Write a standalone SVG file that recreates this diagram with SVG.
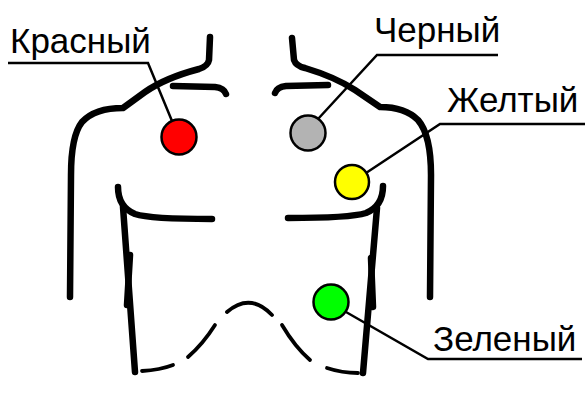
<svg xmlns="http://www.w3.org/2000/svg" width="585" height="408" viewBox="0 0 585 408">
<style>
.body{fill:none;stroke:#000;stroke-width:6.5;stroke-linecap:round;stroke-linejoin:round}
.dash{fill:none;stroke:#000;stroke-width:3.8;stroke-linecap:round}
.lead{fill:none;stroke:#000;stroke-width:2.5;stroke-linejoin:miter}
.el{stroke:#000;stroke-width:2.5}
.lbl{font-family:"Liberation Sans",Arial,sans-serif;font-size:35px;fill:#000}
</style>
<rect width="585" height="408" fill="#fff"/>
<g id="body">
<path class="body" d="M210,37 L209,60 Q208,66 199,69 Q165,78 145,92 L123,108 Q95,108 82,122 Q71,136 71,175 L70,297"/>
<path class="body" d="M292,38 L294,60 Q296,66 305,68 Q335,77 355,90 L380,107 Q405,107 418,120 Q431,135 431,175 L430,297"/>
<path class="body" d="M173,86 L215,87 Q224,88 226,94"/>
<path class="body" d="M328,85 L286,86 Q277,87 275,93"/>
<path class="body" d="M118,187 Q118,207 135,214 Q150,219 212,219"/>
<path class="body" d="M383,186 Q383,206 366,213 Q350,218 288,218"/>
<path class="body" d="M123,207 L135,372"/>
<path class="body" d="M130,255 L127,305"/>
<path class="body" d="M377,208 L363,373"/>
<path class="body" d="M371,258 L373,307"/>
<path class="dash" d="M142,371 Q160,370 173,365"/>
<path class="dash" d="M188,357 Q203,344 215,325"/>
<path class="dash" d="M227,312 Q250,292 272,315"/>
<path class="dash" d="M282,325 Q295,347 310,360"/>
<path class="dash" d="M327,368 Q342,373 358,373"/>
</g>
<g id="connectors">
<path class="lead" d="M8,63 L148,63 L172,121"/>
<path class="lead" d="M498,55 L377,55 L318,119"/>
<path class="lead" d="M585,124 L440,124 L366,173"/>
<path class="lead" d="M582,359 L428,359 L346,312"/>
</g>
<g id="red">
<circle class="el" cx="179" cy="137" r="17.5" fill="#ff0000"/>
<text class="lbl" x="10" y="53">Красный</text>
</g>
<g id="black">
<circle class="el" cx="308" cy="133" r="17.5" fill="#b3b3b3"/>
<text class="lbl" x="374" y="42">Черный</text>
</g>
<g id="yellow">
<circle class="el" cx="352" cy="182" r="17" fill="#ffff00"/>
<text class="lbl" x="447" y="112">Желтый</text>
</g>
<g id="green">
<circle class="el" cx="331" cy="302" r="17.5" fill="#00ff00"/>
<text class="lbl" x="433" y="351">Зеленый</text>
</g>
</svg>
